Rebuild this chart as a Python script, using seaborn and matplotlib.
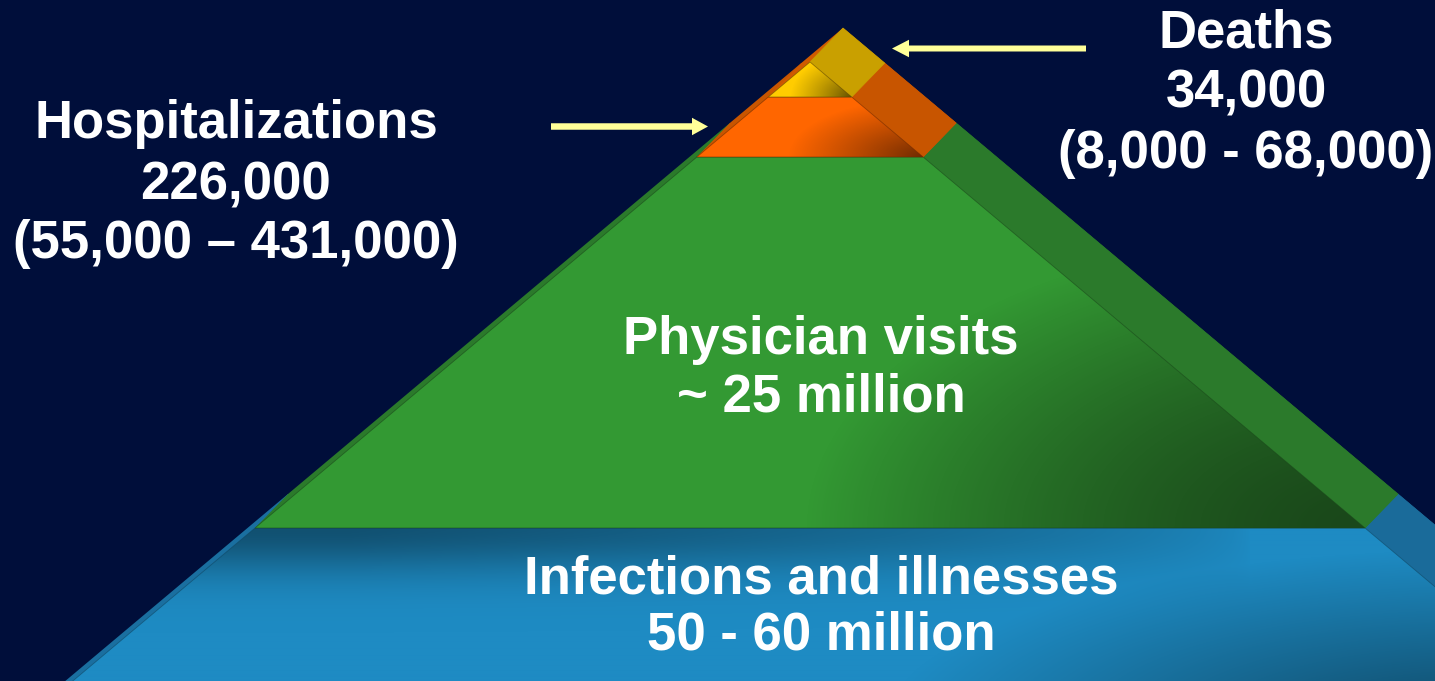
import numpy as np
import matplotlib
matplotlib.use("Agg")
import matplotlib.pyplot as plt
from matplotlib.patches import Polygon, FancyArrow
import seaborn as sns

# ---- labels, top tier first ----
tier_names = ["Deaths", "Hospitalizations", "Physician visits", "Infections and illnesses"]
tier_values = ["34,000", "226,000", "~ 25 million", "50 - 60 million"]
tier_ranges = ["(8,000 - 68,000)", "(55,000 \u2013 431,000)", "", ""]

# ---- colours per tier: front base, front shadow, side, left edge ----
front_base = ["#ffcc00", "#ff6600", "#339933", "#1e8bc3"]
front_dark = ["#5c4a00", "#6e2a00", "#1a481a", "#0f4662"]
side_col = ["#c9a000", "#c85500", "#2b7a2b", "#1a6b9a"]
edge_col = ["#d05a00", "#c85500", "#2b7a2b", "#1a6fa0"]
BG = "#000e3a"
ARROW = "#ffff99"

W, H = 1435, 681
sns.set_theme(style="white", rc={"figure.facecolor": BG, "axes.facecolor": BG,
                                 "savefig.facecolor": BG})
plt.rcParams["font.family"] = ["Liberation Sans", "DejaVu Sans"]

fig = plt.figure(figsize=(W / 100, H / 100), dpi=100)
ax = fig.add_axes([0, 0, 1, 1])
ax.set_facecolor(BG)

# pyramid geometry in pixel space (y grows downward)
apex_x, apex_y = 810.0, 62.0
half_slope = 1.191
depth = np.array([33.0, -34.0])
tier_edges = [62.0, 97.0, 157.0, 528.0, 780.0]


def xl(y):
    return apex_x - half_slope * (y - apex_y)


def xr(y):
    return apex_x + half_slope * (y - apex_y)


def shade_fn(i, X, Y):
    if i == 0:
        d = np.hypot((X - 852) / 62, (Y - 97) / 42)
        return np.clip(d, 0, 1) ** 0.8
    if i == 1:
        d = np.hypot((X - 923) / 135, (Y - 157) / 58)
        return np.clip(d, 0, 1) ** 0.9
    if i == 2:
        d = np.hypot((X - 1365) / 560, (Y - 528) / 300)
        return np.clip(d, 0, 1) ** 1.5
    top = 0.42 * np.exp(-((Y - 528) / 45) ** 2) * np.clip((1250 - X) / 900, 0, 1) ** 0.6
    br = 0.5 * np.clip(1 - np.hypot((X - 1480) / 600, (Y - 730) / 180), 0, 1)
    shade = np.clip(top + br, 0, 0.5)
    return 1 - shade / 0.5


def gradient_fill(poly, i, z):
    pts = np.array(poly)
    x0, y0 = np.floor(pts.min(axis=0))
    x1, y1 = np.ceil(pts.max(axis=0))
    y1 = min(y1, H + 2)
    xs = np.arange(x0, x1 + 1)
    ys = np.arange(y0, y1 + 1)
    X, Y = np.meshgrid(xs, ys)
    cmap = sns.blend_palette([front_dark[i], front_base[i]], as_cmap=True)
    rgba = cmap(shade_fn(i, X, Y))
    im = ax.imshow(rgba, extent=(x0 - 0.5, x1 + 0.5, y1 + 0.5, y0 - 0.5),
                   origin="upper", interpolation="bilinear", zorder=z)
    clip = Polygon(poly, closed=True, facecolor="none", edgecolor="none",
                   transform=ax.transData)
    ax.add_patch(clip)
    im.set_clip_path(clip)
    ax.add_patch(Polygon(poly, closed=True, facecolor="none",
                         edgecolor=front_dark[i], lw=0.6, alpha=0.6, zorder=z + 0.1))


# draw tiers from the base upward so higher tiers sit on top
for i in range(3, -1, -1):
    ya, yb = tier_edges[i], tier_edges[i + 1]
    ftl = np.array([xl(ya), ya]); ftr = np.array([xr(ya), ya])
    fbr = np.array([xr(yb), yb]); fbl = np.array([xl(yb), yb])
    btl, btr, bbr, bbl = ftl + depth, ftr + depth, fbr + depth, fbl + depth
    z = 10 + (3 - i) * 3
    hull = [btl, btr, bbr, fbr, fbl, bbl]
    ax.add_patch(Polygon(hull, closed=True, facecolor=edge_col[i], edgecolor="none", zorder=z))
    side = [ftr, btr, bbr, fbr]
    ax.add_patch(Polygon(side, closed=True, facecolor=side_col[i],
                         edgecolor=side_col[i], lw=0.5, zorder=z + 0.5))
    front = [ftl, ftr, fbr, fbl]
    gradient_fill(front, i, z + 1)

# arrows
ax.add_patch(FancyArrow(1086, 48.5, 892 - 1086, 0, width=6, head_width=17.5, head_length=17,
                        length_includes_head=True, color=ARROW, lw=0, zorder=40))
ax.add_patch(FancyArrow(551, 126.5, 708 - 551, 0, width=6.5, head_width=17.5, head_length=16,
                        length_includes_head=True, color=ARROW, lw=0, zorder=40))

txt = dict(ha="center", va="baseline", color="white", fontsize=38,
           fontweight="bold", zorder=50)

# Deaths block (right of the apex)
ax.text(1246, 48, tier_names[0], **txt)
ax.text(1246, 108, tier_values[0], **txt)
ax.text(1246, 168, tier_ranges[0], **txt)

# Hospitalizations block (left)
ax.text(236, 138, tier_names[1], **txt)
ax.text(236, 199, tier_values[1], **txt)
ax.text(236, 258, tier_ranges[1], **txt)

# Physician visits on the green tier
ax.text(821, 354, tier_names[2], **txt)
ax.text(821, 411, tier_values[2], **txt)

# Infections on the blue base
ax.text(821, 594, tier_names[3], **txt)
ax.text(821, 650, tier_values[3], **txt)

ax.set_xlim(0, W)
ax.set_ylim(H, 0)
ax.set_aspect("auto")
ax.axis("off")
ax.set_position([0, 0, 1, 1])

fig.savefig("out.png", dpi=100, facecolor=BG)
